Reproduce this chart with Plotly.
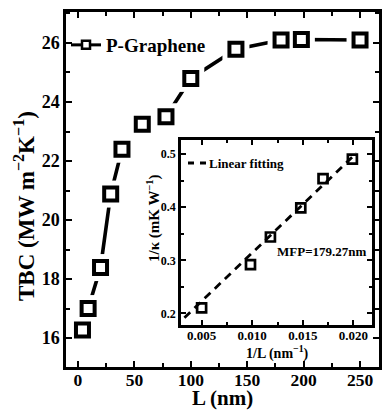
import plotly.graph_objects as go

# Main data: TBC vs length
L_nm = [4, 9, 20, 29, 39, 57, 78, 100, 140, 180, 198, 250]
TBC = [16.27, 17.0, 18.39, 20.88, 22.4, 23.25, 23.5, 24.8, 25.79, 26.1, 26.12, 26.1]

# Inset data: 1/kappa vs 1/L
inv_L = [0.005, 0.00983, 0.0118, 0.0148, 0.017, 0.0199]
inv_kappa = [0.2106, 0.292, 0.344, 0.399, 0.454, 0.4906]
fit_x = [0.0033, 0.0203]
fit_y = [0.192, 0.502]

main_xticks = [0, 50, 100, 150, 200, 250]
main_yticks = [16, 18, 20, 22, 24, 26]
inset_xticks = [0.005, 0.010, 0.015, 0.020]
inset_yticks = [0.2, 0.3, 0.4, 0.5]

FONT = "Liberation Serif"
W, H = 382, 410
ML, MR, MT, MB = 66, 3, 12, 43
PW, PH = W - ML - MR, H - MT - MB


def px(x):
    return (x - ML) / PW


def py(y):
    return (H - MB - y) / PH


fig = go.Figure()

# main curve
fig.add_trace(go.Scatter(x=L_nm, y=TBC, mode="lines",
                         line=dict(color="black", width=3.6), showlegend=False))
fig.add_trace(go.Scatter(x=L_nm, y=TBC, mode="markers",
                         marker=dict(symbol="square", size=27, color="white", line=dict(width=0)),
                         showlegend=False))
fig.add_trace(go.Scatter(x=L_nm, y=TBC, mode="markers",
                         marker=dict(symbol="square", size=13, color="white",
                                     line=dict(color="black", width=4)),
                         showlegend=False))
# legend entry for main
fig.add_trace(go.Scatter(x=[None], y=[None], mode="lines+markers", name="P-Graphene",
                         line=dict(color="black", width=3),
                         marker=dict(symbol="square", size=8, color="white",
                                     line=dict(color="black", width=2.5)),
                         legend="legend"))

# inset
fig.add_trace(go.Scatter(x=inv_L, y=inv_kappa, mode="markers", xaxis="x2", yaxis="y2",
                         marker=dict(symbol="square-open", size=9, color="black",
                                     line=dict(color="black", width=2.7)),
                         showlegend=False))
fig.add_trace(go.Scatter(x=fit_x, y=fit_y, mode="lines", xaxis="x2", yaxis="y2",
                         name="Linear fitting",
                         line=dict(color="black", width=2.8, dash="8px,6px"),
                         showlegend=False))

axis_common = dict(showline=True, linecolor="black", mirror="ticks", ticks="inside",
                   tickcolor="black", showgrid=False, zeroline=False, automargin=False)


def label(text, x, y, size, angle=0, xanchor="center"):
    return dict(text=text, x=px(x), y=py(y), xref="paper", yref="paper", showarrow=False,
                xanchor=xanchor, yanchor="middle", textangle=angle, borderpad=0,
                font=dict(size=size, family=FONT, weight="bold"))


fig.update_layout(
    width=W, height=H,
    margin=dict(l=ML, r=MR, t=MT, b=MB),
    paper_bgcolor="white", plot_bgcolor="white",
    font=dict(family=FONT, color="black", weight="bold"),
    xaxis=dict(**axis_common, domain=[0, 1], range=[-10.6, 266.8], tickvals=main_xticks,
               linewidth=2.5, ticklen=6, tickwidth=2, ticklabelstandoff=-5,
               minor=dict(dtick=25, tick0=0, ticks="inside", ticklen=4, tickwidth=2, tickcolor="black"),
               tickfont=dict(size=17.5, family=FONT, weight="bold")),
    yaxis=dict(**axis_common, domain=[0, 1], range=[15.02, 27.05], tickvals=main_yticks,
               linewidth=2.5, ticklen=6, tickwidth=2,
               minor=dict(dtick=1, tick0=0, ticks="inside", ticklen=4, tickwidth=2, tickcolor="black"),
               tickfont=dict(size=18, family=FONT, weight="bold")),
    xaxis2=dict(**axis_common, domain=[0.367, 0.978], anchor="y2", range=[0.00295, 0.02185],
                tickvals=inset_xticks, tickformat=".3f", linewidth=2.5, ticklen=5, tickwidth=2,
                ticklabelstandoff=-3,
                minor=dict(dtick=0.0025, tick0=0, ticks="inside", ticklen=3, tickwidth=2, tickcolor="black"),
                tickfont=dict(size=13, family=FONT, weight="bold")),
    yaxis2=dict(**axis_common, domain=[0.118, 0.639], anchor="x2", range=[0.178, 0.5264],
                tickvals=inset_yticks, tickformat=".1f", linewidth=2.5, ticklen=5, tickwidth=2,
                minor=dict(dtick=0.05, tick0=0, ticks="inside", ticklen=3, tickwidth=2, tickcolor="black"),
                tickfont=dict(size=12, family=FONT, weight="bold")),
    legend=dict(x=0.0, y=0.907, xanchor="left", yanchor="middle", bgcolor="rgba(0,0,0,0)",
                font=dict(size=19, family=FONT, weight="bold"), borderwidth=0),
    shapes=[
        dict(type="line", xref="paper", yref="paper", x0=px(188), x1=px(207), y0=py(163), y1=py(163),
             line=dict(color="black", width=2.8, dash="6px,6px")),
    ],
    annotations=[
        label("L (nm)", 222, 398, 21),
        label("TBC (MW m<sup>−2</sup>K<sup>−1</sup>)", 25, 206, 23, angle=-90),
        label("1/L (nm<sup>−1</sup>)", 277, 352, 14),
        label("1/κ (mK W<sup>−1</sup>)", 153, 218, 15, angle=-90),
        label("Linear fitting", 208, 163, 13, xanchor="left"),
        dict(text="MFP=179.27nm", x=0.01687, y=0.3175, xref="x2", yref="y2", showarrow=False,
             xanchor="center", yanchor="middle",
             font=dict(size=13, family=FONT, weight="bold")),
    ],
)

fig.write_html("out.html", post_script="document.body.style.margin='0';",
               config={"displayModeBar": False})
